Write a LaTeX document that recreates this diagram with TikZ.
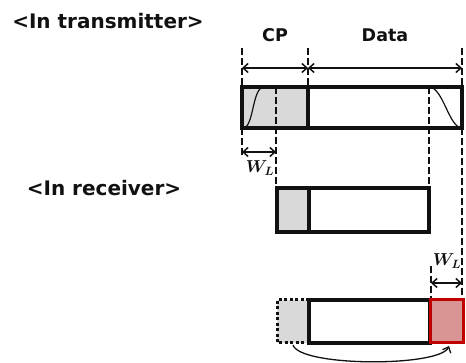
\documentclass[tikz,border=0pt]{standalone}
\usepackage{amsmath,amssymb}
\usepackage{fontspec}
\setmainfont{DejaVu Sans}
\usetikzlibrary{arrows.meta, calc}
\definecolor{cpgray}{HTML}{D9D9D9}
\definecolor{wlred}{HTML}{C00000}
\definecolor{wlpink}{HTML}{D99594}
\definecolor{dkink}{HTML}{111111}

\tikzset{
  frame/.style={draw=dkink, line width=3.2pt},
  guide/.style={draw=dkink, line width=2pt, dash pattern=on 7pt off 3pt},
  span/.style={draw=dkink, {Straight Barb[length=5pt, width=9pt]}-{Straight Barb[length=5pt, width=9pt]}, line width=1.5pt},
  head/.style={text=dkink, font=\bfseries\fontsize{20}{23}\selectfont},
  part/.style={text=dkink, font=\bfseries\fontsize{17.5}{20}\selectfont},
  wl/.style={text=dkink, font=\fontsize{18}{20}\selectfont},
}

\begin{document}
\begin{tikzpicture}[x=1pt, y=-1pt]
\useasboundingbox (0,0) rectangle (466,363);

% Titles
\node[head] (tx) at (108,21) {<In transmitter>};
\node[head] (rx) at (104,188) {<In receiver>};
\node[part] (cp) at (275,35) {CP};
\node[part] (data) at (385,35) {Data};

% --- Transmitter symbol ---
\coordinate (txCP) at (242,87);
\coordinate (txMid) at (308,128);
\coordinate (txEnd) at (462,128);
\fill[cpgray] (txCP) rectangle (txMid);

% Guide lines
\draw[guide] (242,48) -- (242,157);
\draw[guide] (308,48) -- (308,87);
\draw[guide] (462,48) -- (462,300);
\draw[guide] (276,87) -- (276,188);
\draw[guide] (429,87) -- (429,188);
\draw[guide] (431,266) -- (431,300);

% Window edges
\draw[line width=1.2pt, dkink] (243,128) .. controls (254,128) and (252,87) .. (264,87);
\draw[line width=1.2pt, dkink] (429,87) .. controls (443,87) and (449,128) .. (462,128);

\draw[frame] (txCP) rectangle (txEnd);
\draw[frame] (308,87) -- (txMid);

% Spans
\coordinate (spA) at (242,68);
\coordinate (spB) at (308,68);
\coordinate (spC) at (462,68);
\draw[span] (spA) -- (spB);
\draw[span] (spB) -- (spC);

\coordinate (wlA) at (242,152);
\coordinate (wlB) at (276,152);
\draw[span] (wlA) -- (wlB);
\node[wl] (wlTx) at (260,168) {$\boldsymbol{W_L}$};

% --- Receiver symbol ---
\fill[cpgray] (277,188) rectangle (309,232);
\draw[frame] (277,188) rectangle (429,232);
\draw[frame] (309,188) -- (309,232);

% --- Cyclic shift ---
\coordinate (wlC) at (431,283);
\coordinate (wlD) at (462,283);
\draw[span] (wlC) -- (wlD);
\node[wl] (wlRx) at (447,261) {$\boldsymbol{W_L}$};

\fill[cpgray] (277,300) rectangle (309,343);
\draw[dkink, line width=3pt, dash pattern=on 3pt off 2.5pt] (309,300) -- (277,300) -- (277,343) -- (309,343);
\draw[frame] (309,300) rectangle (430,343);
\draw[wlred, fill=wlpink, line width=3pt] (430,300) rectangle (463,343);

\coordinate (mvFrom) at (293,345);
\coordinate (mvTo) at (449,346);
\draw[dkink, line width=1.3pt, -{Straight Barb[length=5pt, width=9pt]}]
  (mvFrom) .. controls (300,367) and (440,367) .. (mvTo);

\end{tikzpicture}
\end{document}
